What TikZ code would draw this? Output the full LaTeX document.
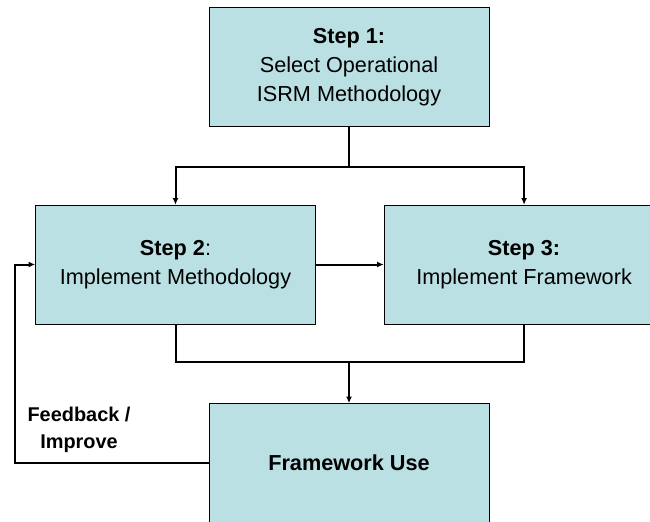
\documentclass[tikz,border=0pt]{standalone}
\usepackage{fontspec}
\setmainfont{Liberation Sans}
\usepackage{tikz}
\usetikzlibrary{arrows.meta}
\usetikzlibrary{positioning}
\usepackage{color}
\definecolor{boxfill}{RGB}{187,224,227}

\begin{document}
\begin{tikzpicture}
    [x=0.3mm, y=-0.3mm,
     st/.style={rectangle, draw=black, line width=0.5pt, fill=boxfill, minimum height=35.7mm, minimum width=84mm, align=center, font=\fontsize{18.5}{25}\selectfont},
     ln/.style={draw=black, line width=0.6mm},
     ar/.style={-{Latex[length=2mm, width=1.8mm]}, draw=black, line width=0.6mm},
     fb/.style={align=center, font=\fontsize{17}{23}\selectfont\bfseries}]

    \useasboundingbox (0,0) rectangle (650,522);
    \clip (0,0) rectangle (650,522);

    \node [st] (s1) at (349,67) {
    \textbf{Step 1:}\\
    Select Operational\\
    ISRM Methodology
    };
    \node [st] (s2) at (175.5,264.5) {
    \textbf{Step 2}:\\
    Implement Methodology
    };
    \node [st, right=20.4mm of s2] (s3) {
    \textbf{Step 3:}\\
    Implement Framework
    };
    \node [st, font=\fontsize{18.5}{25}\selectfont\bfseries] (use) at (349,463) {Framework Use};

    \coordinate (j1) at (349,167);
    \coordinate (j2) at (349,362);
    \coordinate (fb0) at (15,463);

    \draw [ln] (s1.south) -- (j1);
    \draw [ar] (j1) -| (s2.north);
    \draw [ar] (j1) -| (s3.north);

    \draw [ar] (s2) -- (s3);

    \draw [ln] (s2.south) |- (j2);
    \draw [ln] (s3.south) |- (j2);
    \draw [ar] (j2) -- (use.north);

    \draw [ar] (use.west) -- (fb0) |- (s2.west);
    \node [fb] (fbl) at (79,430) {Feedback /\\Improve};
\end{tikzpicture}
\end{document}
